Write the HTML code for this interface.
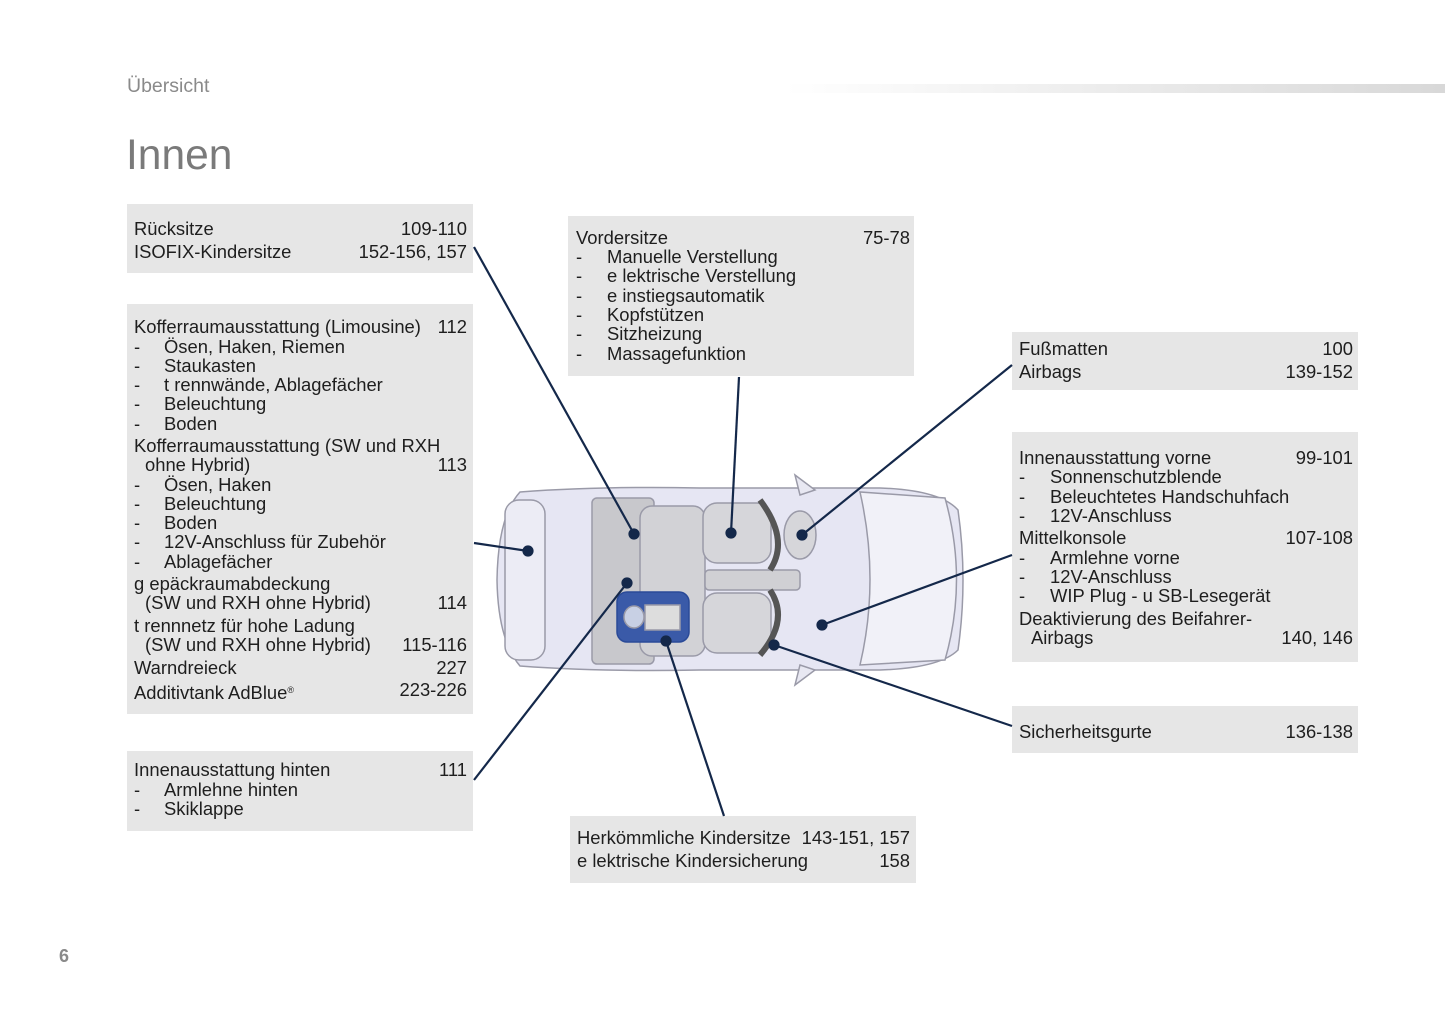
<!DOCTYPE html>
<html><head><meta charset="utf-8"><style>
body{margin:0;width:1445px;height:1026px;background:#fff;position:relative;overflow:hidden;font-family:"Liberation Sans",sans-serif;color:#1e1e1e}
.b{position:absolute;background:#e6e6e6}
.t{position:absolute;font-size:18.4px;line-height:20px;white-space:nowrap}
.r{position:absolute;font-size:18.4px;line-height:20px;white-space:nowrap;text-align:right}
</style></head><body>
<div class="t" style="left:127px;top:76px;font-size:19.5px;color:#8a8a8a">Übersicht</div>
<div style="position:absolute;left:785px;top:84px;width:660px;height:9px;background:linear-gradient(to right,#fff,#d8d8d8)"></div>
<div class="t" style="left:126px;top:131px;font-size:42.5px;line-height:50px;color:#7a7a7a">Innen</div>
<div class="t" style="left:59px;top:946px;font-size:18px;font-weight:bold;color:#8a8a8a">6</div>

<div class="b" style="left:127px;top:204px;width:346px;height:69px"></div>
<div class="b" style="left:127px;top:304px;width:346px;height:410px"></div>
<div class="b" style="left:127px;top:751px;width:346px;height:80px"></div>
<div class="b" style="left:568px;top:216px;width:346px;height:160px"></div>
<div class="b" style="left:1012px;top:332px;width:346px;height:58px"></div>
<div class="b" style="left:1012px;top:432px;width:346px;height:230px"></div>
<div class="b" style="left:1012px;top:706px;width:346px;height:47px"></div>
<div class="b" style="left:570px;top:816px;width:346px;height:67px"></div>

<svg style="position:absolute;left:0;top:0" width="1445" height="1026">
<g stroke="#9a9aa8" stroke-width="1.5">
<path d="M520,492 Q600,486 700,488 L880,488 Q940,490 958,510 Q968,580 958,650 Q940,668 880,670 L700,670 Q600,672 520,666 Q498,640 497,580 Q498,516 520,492Z" fill="#e6e6f3"/>
<path d="M860,492 Q880,580 860,665 L945,660 Q968,580 945,498Z" fill="#f1f1f8"/>
<path d="M795,475 L815,490 L800,495Z M795,685 L815,670 L800,665Z" fill="#e8e8f2"/>
<rect x="505" y="500" width="40" height="160" rx="14" fill="#ececf5"/>
<rect x="592" y="498" width="62" height="166" rx="5" fill="#c8c8cc"/>
<rect x="640" y="506" width="65" height="150" rx="12" fill="#d2d2d6"/>
<rect x="703" y="503" width="68" height="60" rx="14" fill="#d6d6da"/>
<rect x="703" y="593" width="68" height="60" rx="14" fill="#d6d6da"/>
<rect x="705" y="570" width="95" height="20" rx="4" fill="#d0d0d4"/>
<ellipse cx="800" cy="535" rx="16" ry="24" fill="#d6d6da"/>
<path d="M760,500 Q790,540 770,570 M760,655 Q790,620 770,590" fill="none" stroke="#555" stroke-width="6"/>
<rect x="617" y="592" width="72" height="50" rx="10" fill="#3a5aa8" stroke="#2a4a98"/>
<ellipse cx="634" cy="617" rx="10" ry="11" fill="#c8d0e4"/>
<path d="M645,605 L680,605 L680,630 L645,630Z" fill="#ddd"/>
</g>
<g stroke="#14284a" stroke-width="2.2" fill="#14284a">
<line x1="474" y1="247" x2="634" y2="534"/><circle cx="634" cy="534" r="4.5"/>
<line x1="474" y1="543" x2="528" y2="551"/><circle cx="528" cy="551" r="4.5"/>
<line x1="474" y1="780" x2="627" y2="583"/><circle cx="627" cy="583" r="4.5"/>
<line x1="739" y1="377" x2="731" y2="533"/><circle cx="731" cy="533" r="4.5"/>
<line x1="1012" y1="365" x2="802" y2="535"/><circle cx="802" cy="535" r="4.5"/>
<line x1="1012" y1="555" x2="822" y2="625"/><circle cx="822" cy="625" r="4.5"/>
<line x1="1012" y1="726" x2="774" y2="645"/><circle cx="774" cy="645" r="4.5"/>
<line x1="724" y1="816" x2="666" y2="641"/><circle cx="666" cy="641" r="4.5"/>
</g>
</svg>

<div class="t" style="left:134px;top:219px">Rücksitze</div><div class="r" style="right:978px;top:219px">109-110</div>
<div class="t" style="left:134px;top:242px">ISOFIX-Kindersitze</div><div class="r" style="right:978px;top:242px">152-156, 157</div>
<div class="t" style="left:134px;top:317px">Kofferraumausstattung (Limousine)</div><div class="r" style="right:978px;top:317px">112</div>
<div class="t" style="left:134px;top:337px">-</div><div class="t" style="left:164px;top:337px">Ösen, Haken, Riemen</div>
<div class="t" style="left:134px;top:356px">-</div><div class="t" style="left:164px;top:356px">Staukasten</div>
<div class="t" style="left:134px;top:375px">-</div><div class="t" style="left:164px;top:375px">t rennwände, Ablagefächer</div>
<div class="t" style="left:134px;top:394px">-</div><div class="t" style="left:164px;top:394px">Beleuchtung</div>
<div class="t" style="left:134px;top:414px">-</div><div class="t" style="left:164px;top:414px">Boden</div>
<div class="t" style="left:134px;top:436px">Kofferraumausstattung (SW und RXH</div>
<div class="t" style="left:145px;top:455px">ohne Hybrid)</div><div class="r" style="right:978px;top:455px">113</div>
<div class="t" style="left:134px;top:475px">-</div><div class="t" style="left:164px;top:475px">Ösen, Haken</div>
<div class="t" style="left:134px;top:494px">-</div><div class="t" style="left:164px;top:494px">Beleuchtung</div>
<div class="t" style="left:134px;top:513px">-</div><div class="t" style="left:164px;top:513px">Boden</div>
<div class="t" style="left:134px;top:532px">-</div><div class="t" style="left:164px;top:532px">12V-Anschluss für Zubehör</div>
<div class="t" style="left:134px;top:552px">-</div><div class="t" style="left:164px;top:552px">Ablagefächer</div>
<div class="t" style="left:134px;top:574px">g epäckraumabdeckung</div>
<div class="t" style="left:145px;top:593px">(SW und RXH ohne Hybrid)</div><div class="r" style="right:978px;top:593px">114</div>
<div class="t" style="left:134px;top:616px">t rennnetz für hohe Ladung</div>
<div class="t" style="left:145px;top:635px">(SW und RXH ohne Hybrid)</div><div class="r" style="right:978px;top:635px">115-116</div>
<div class="t" style="left:134px;top:658px">Warndreieck</div><div class="r" style="right:978px;top:658px">227</div>
<div class="t" style="left:134px;top:680px">Additivtank AdBlue<sup style="font-size:9px;vertical-align:6px">®</sup></div><div class="r" style="right:978px;top:680px">223-226</div>
<div class="t" style="left:134px;top:760px">Innenausstattung hinten</div><div class="r" style="right:978px;top:760px">111</div>
<div class="t" style="left:134px;top:780px">-</div><div class="t" style="left:164px;top:780px">Armlehne hinten</div>
<div class="t" style="left:134px;top:799px">-</div><div class="t" style="left:164px;top:799px">Skiklappe</div>
<div class="t" style="left:576px;top:228px">Vordersitze</div><div class="r" style="right:535px;top:228px">75-78</div>
<div class="t" style="left:576px;top:247px">-</div><div class="t" style="left:607px;top:247px">Manuelle Verstellung</div>
<div class="t" style="left:576px;top:266px">-</div><div class="t" style="left:607px;top:266px">e lektrische Verstellung</div>
<div class="t" style="left:576px;top:286px">-</div><div class="t" style="left:607px;top:286px">e instiegsautomatik</div>
<div class="t" style="left:576px;top:305px">-</div><div class="t" style="left:607px;top:305px">Kopfstützen</div>
<div class="t" style="left:576px;top:324px">-</div><div class="t" style="left:607px;top:324px">Sitzheizung</div>
<div class="t" style="left:576px;top:344px">-</div><div class="t" style="left:607px;top:344px">Massagefunktion</div>
<div class="t" style="left:1019px;top:339px">Fußmatten</div><div class="r" style="right:92px;top:339px">100</div>
<div class="t" style="left:1019px;top:362px">Airbags</div><div class="r" style="right:92px;top:362px">139-152</div>
<div class="t" style="left:1019px;top:448px">Innenausstattung vorne</div><div class="r" style="right:92px;top:448px">99-101</div>
<div class="t" style="left:1019px;top:467px">-</div><div class="t" style="left:1050px;top:467px">Sonnenschutzblende</div>
<div class="t" style="left:1019px;top:487px">-</div><div class="t" style="left:1050px;top:487px">Beleuchtetes Handschuhfach</div>
<div class="t" style="left:1019px;top:506px">-</div><div class="t" style="left:1050px;top:506px">12V-Anschluss</div>
<div class="t" style="left:1019px;top:528px">Mittelkonsole</div><div class="r" style="right:92px;top:528px">107-108</div>
<div class="t" style="left:1019px;top:548px">-</div><div class="t" style="left:1050px;top:548px">Armlehne vorne</div>
<div class="t" style="left:1019px;top:567px">-</div><div class="t" style="left:1050px;top:567px">12V-Anschluss</div>
<div class="t" style="left:1019px;top:586px">-</div><div class="t" style="left:1050px;top:586px">WIP Plug - u SB-Lesegerät</div>
<div class="t" style="left:1019px;top:609px">Deaktivierung des Beifahrer-</div>
<div class="t" style="left:1031px;top:628px">Airbags</div><div class="r" style="right:92px;top:628px">140, 146</div>
<div class="t" style="left:1019px;top:722px">Sicherheitsgurte</div><div class="r" style="right:92px;top:722px">136-138</div>
<div class="t" style="left:577px;top:828px">Herkömmliche Kindersitze</div><div class="r" style="right:535px;top:828px">143-151, 157</div>
<div class="t" style="left:577px;top:851px">e lektrische Kindersicherung</div><div class="r" style="right:535px;top:851px">158</div>
</body></html>
